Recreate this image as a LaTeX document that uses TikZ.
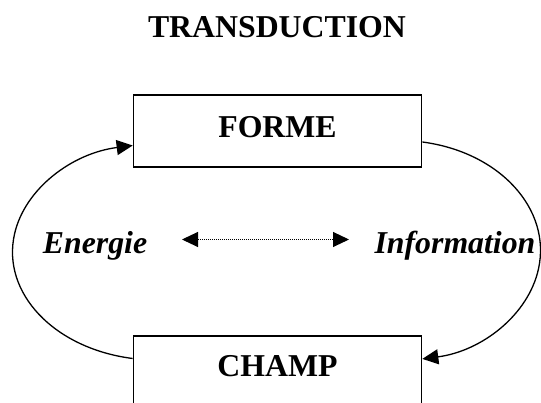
\documentclass[tikz,border=0pt]{standalone}
\usepackage{fontspec}
\setmainfont{Liberation Serif}
\usetikzlibrary{arrows.meta,calc}
\tikzset{
  box/.style={draw, line width=1.3pt, minimum width=288.4pt, minimum height=72pt, inner sep=0pt},
  lbl/.style={font=\fontsize{31.8}{32}\selectfont\bfseries},
  itl/.style={font=\fontsize{31.8}{32}\selectfont\bfseries\itshape, inner sep=0pt},
  tip/.style={Triangle[length=16pt,width=15pt]},
  conn/.style={line width=1.3pt, -{Triangle[length=16pt,width=15pt]}},
  dots/.style={line width=1pt, dash pattern=on 1pt off 1pt, {Triangle[length=16pt,width=15pt]}-{Triangle[length=16pt,width=15pt]}}
}
\begin{document}
\begin{tikzpicture}[x=1pt,y=1pt]
\useasboundingbox (0,0) rectangle (541,403);
\node[font=\fontsize{31.8}{32}\selectfont\bfseries] (title) at (277,376) {TRANSDUCTION};
\node[box] (forme) at (277.5,272) {};
\node[lbl] (formet) at (277.5,276) {FORME};
\node[box] (champ) at (277.5,31) {};
\node[lbl] (champt) at (277.5,37) {CHAMP};
\node[itl, anchor=base] (energie) at (95,149) {Energie};
\node[itl, anchor=base] (info) at (455,149) {Information};
\coordinate (dl) at (182,163.5);
\coordinate (dr) at (349,163.5);
\draw[dots] (dl) -- (dr);
\coordinate (ls) at ($(champ.west)+(0,13.5)$);
\draw[conn] (ls) arc[start angle=260.4, end angle=99.6, x radius=144.2, y radius=108];
\coordinate (rs) at ($(forme.east)+(0,-11)$);
\draw[conn] (rs) arc[start angle=80.4, end angle=-80.4, x radius=141.8, y radius=110];
\end{tikzpicture}
\end{document}
